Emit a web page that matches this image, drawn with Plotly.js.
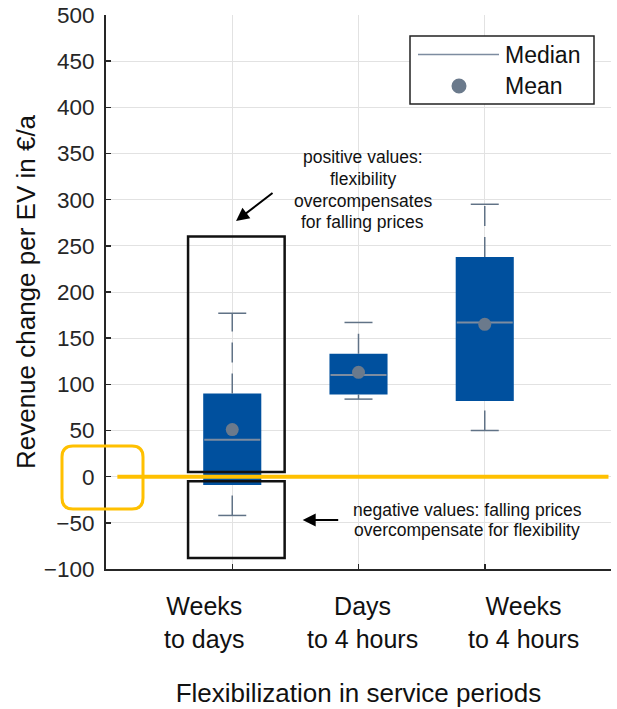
<!DOCTYPE html>
<html>
<head>
<meta charset="utf-8">
<script src="https://cdn.plot.ly/plotly-3.0.1.min.js"></script>
<style>html,body{margin:0;padding:0;background:#fff;}#chart{width:617px;height:709px;}</style>
</head>
<body>
<div id="chart"></div>
<script>
// ---- data ----
const categories = ['Weeks<br>to days', 'Days<br>to 4 hours', 'Weeks<br>to 4 hours'];
const positions = [1, 2, 3];
const lowerWhisker = [-42, 84, 50];
const q1 = [-9, 89, 82];
const median = [40, 110, 167];
const q3 = [90, 133, 238];
const upperWhisker = [177, 167, 295];
const mean = [51, 113, 165];
const yTicks = [-100, -50, 0, 50, 100, 150, 200, 250, 300, 350, 400, 450, 500];

// ---- style ----
const FONT = 'Liberation Sans, Arial, sans-serif';
const BLUE = '#00509e';
const GREY = '#607286';
const MEANC = '#6b7a8c';
const TXT = '#262626';
const labelOffsets = [-0.22, 0.03, 0.31];

// whisker polylines built from the data
const wx = [], wy = [];
positions.forEach((p, i) => {
  wx.push(p, p, null, p, p, null);
  wy.push(lowerWhisker[i], q1[i], null, q3[i], upperWhisker[i], null);
});

const traces = [
  {type: 'scatter', mode: 'lines', x: wx, y: wy, showlegend: false, hoverinfo: 'skip',
   line: {color: GREY, width: 1.5, dash: '20px,11px'}},
  {type: 'scatter', mode: 'markers', x: positions.concat(positions), y: upperWhisker.concat(lowerWhisker),
   showlegend: false, hoverinfo: 'skip',
   marker: {symbol: 'line-ew', size: 20, line: {color: GREY, width: 1.5}}},
  {type: 'bar', x: positions, base: q1, y: q3.map((v, i) => v - q1[i]), width: 0.46,
   marker: {color: BLUE, line: {width: 0}}, showlegend: false, hoverinfo: 'skip'},
  {type: 'scatter', mode: 'markers', x: positions, y: median, name: 'Median', showlegend: false,
   marker: {symbol: 'line-ew', size: 40, line: {color: '#7d8ca0', width: 2}}},
  {type: 'scatter', mode: 'markers', x: positions, y: mean, name: 'Mean', showlegend: false,
   marker: {symbol: 'circle', size: 13, color: MEANC}}
];

// pixel helpers for decorations outside the plot area
const L = 106, T = 15, PW = 505, PH = 554;
const PX = px => (px - L) / PW;
const PY = py => (T + PH - py) / PH;

function roundRect(x0, y0, x1, y1, r) {
  return 'M' + PX(x0 + r) + ',' + PY(y0) +
    ' L' + PX(x1 - r) + ',' + PY(y0) + ' Q' + PX(x1) + ',' + PY(y0) + ' ' + PX(x1) + ',' + PY(y0 + r) +
    ' L' + PX(x1) + ',' + PY(y1 - r) + ' Q' + PX(x1) + ',' + PY(y1) + ' ' + PX(x1 - r) + ',' + PY(y1) +
    ' L' + PX(x0 + r) + ',' + PY(y1) + ' Q' + PX(x0) + ',' + PY(y1) + ' ' + PX(x0) + ',' + PY(y1 - r) +
    ' L' + PX(x0) + ',' + PY(y0 + r) + ' Q' + PX(x0) + ',' + PY(y0) + ' ' + PX(x0 + r) + ',' + PY(y0) + ' Z';
}

const shapes = [
  {type: 'line', xref: 'x', yref: 'y', x0: 0.09, x1: 3.98, y0: 0, y1: 0, line: {color: '#FFC000', width: 4}},
  {type: 'rect', xref: 'x', yref: 'y', x0: 0.65, x1: 1.415, y0: 5, y1: 260, line: {color: '#111', width: 2.5}},
  {type: 'rect', xref: 'x', yref: 'y', x0: 0.65, x1: 1.415, y0: -5, y1: -88, line: {color: '#111', width: 2.5}},
  {type: 'path', xref: 'paper', yref: 'paper', path: roundRect(62, 446, 143, 509, 11),
   line: {color: '#FFC000', width: 3}},
  // legend
  {type: 'rect', xref: 'paper', yref: 'paper', x0: PX(410), x1: PX(594), y0: PY(104), y1: PY(36),
   fillcolor: '#fff', line: {color: '#222', width: 1.5}},
  {type: 'line', xref: 'paper', yref: 'paper', x0: PX(418), x1: PX(499), y0: PY(54.5), y1: PY(54.5),
   line: {color: '#7d8ca0', width: 1.5}},
  {type: 'circle', xref: 'paper', yref: 'paper', xsizemode: 'pixel', ysizemode: 'pixel',
   xanchor: PX(459), yanchor: PY(86), x0: -7.5, x1: 7.5, y0: -7.5, y1: 7.5,
   fillcolor: MEANC, line: {width: 0}}
];

const annotations = [];
// category labels
categories.forEach((c, i) => {
  annotations.push({xref: 'x', yref: 'paper', x: positions[i] + labelOffsets[i], y: PY(622),
    text: c, showarrow: false, xanchor: 'center', yanchor: 'middle',
    font: {family: FONT, size: 25, color: '#111'}});
});
// legend texts
annotations.push({xref: 'paper', yref: 'paper', x: PX(503), y: PY(54.5), text: 'Median', showarrow: false,
  xanchor: 'left', yanchor: 'middle', font: {family: FONT, size: 23, color: '#111'}});
annotations.push({xref: 'paper', yref: 'paper', x: PX(503), y: PY(86), text: 'Mean', showarrow: false,
  xanchor: 'left', yanchor: 'middle', font: {family: FONT, size: 23, color: '#111'}});
// explanatory notes
const posLines = ['positive values:', 'flexibility', 'overcompensates', 'for falling prices'];
const posY = [346, 322.5, 299, 275.5];
posLines.forEach((t, i) => annotations.push({xref: 'x', yref: 'y', x: 2.032, y: posY[i], text: t,
  showarrow: false, xanchor: 'center', yanchor: 'middle', font: {family: FONT, size: 17.5, color: '#111'}}));
const negLines = ['negative values: falling prices', 'overcompensate for flexibility'];
const negY = [-36, -57.5];
negLines.forEach((t, i) => annotations.push({xref: 'x', yref: 'y', x: 2.862, y: negY[i], text: t,
  showarrow: false, xanchor: 'center', yanchor: 'middle', font: {family: FONT, size: 17.5, color: '#111'}}));
// arrows
annotations.push({xref: 'x', yref: 'y', x: 1.03, y: 277, ax: 38, ay: -29, text: '', showarrow: true,
  arrowhead: 2, arrowsize: 1.3, arrowwidth: 2, arrowcolor: '#000', standoff: 0});
annotations.push({xref: 'x', yref: 'y', x: 1.558, y: -47, ax: 37, ay: 0, text: '', showarrow: true,
  arrowhead: 2, arrowsize: 1.3, arrowwidth: 2, arrowcolor: '#000', standoff: 0});

const layout = {
  width: 617, height: 709,
  margin: {l: L, r: 617 - L - PW, t: T, b: 709 - T - PH},
  paper_bgcolor: '#fff', plot_bgcolor: '#fff',
  font: {family: FONT, color: TXT},
  showlegend: false, hovermode: false,
  xaxis: {range: [0, 4], tickvals: [1, 2, 3, 4], showticklabels: false, ticks: 'inside', ticklen: 5,
    tickwidth: 1.5, tickcolor: TXT, showline: true, linecolor: TXT, linewidth: 2, showgrid: true,
    gridcolor: '#e2e2e2', gridwidth: 1, zeroline: false, fixedrange: true,
    title: {text: 'Flexibilization in service periods', font: {family: FONT, size: 26, color: '#111'}, standoff: 114}},
  yaxis: {range: [-100, 500], tickvals: yTicks, ticks: 'inside', ticklen: 5, tickwidth: 1.5, tickcolor: TXT,
    showline: true, linecolor: TXT, linewidth: 2, showgrid: true, gridcolor: '#e2e2e2', gridwidth: 1,
    zeroline: false, tickfont: {family: FONT, size: 22.5, color: TXT}, ticklabelstandoff: 5, fixedrange: true,
    title: {text: 'Revenue change per EV in €/a', font: {family: FONT, size: 26, color: '#111'}, standoff: 1}},
  shapes: shapes,
  annotations: annotations
};

Plotly.newPlot('chart', traces, layout, {displayModeBar: false, staticPlot: true});
</script>
</body>
</html>
